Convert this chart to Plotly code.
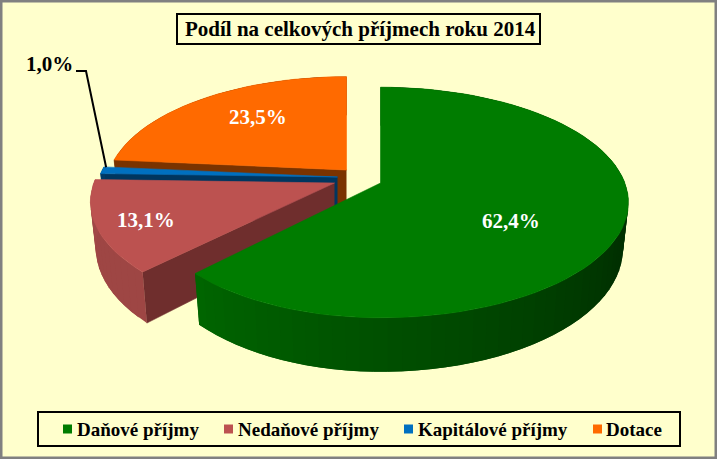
import numpy as np
import plotly.graph_objects as go

title = "Podíl na celkových příjmech roku 2014"
categories = ["Daňové příjmy", "Nedaňové příjmy", "Kapitálové příjmy", "Dotace"]
values = [62.4, 13.1, 1.0, 23.5]

top_colors = ["#007C00", "#BC5250", "#0070C0", "#FF6A00"]
arc_colors = [("#003000", "#006600"), ("#9E4644", "#A34947"), ("#003A66", "#003A66"), ("#7A3300", "#7A3300")]
cut_colors = [None, "#6F2E2D", "#00365F", "#7A3300"]

# style: projected-disc geometry (pixel scale of the hidden axes)
CX, CY, RX, RY, PERSP, DEPTH, BOTTOM_X = 380.5, 183.0, 244.4, 112.0, 0.169, 45.0, 0.978
# per-slice explosion offset, radius factor and extra squeeze on the left half
offsets = [(0, 0), (-46, 0), (-43, -6), (-34, -13)]
scales = [1.0, 0.985, 0.975, 0.97]
left_squeeze = [0.95, 1.0, 1.0, 1.0]
label_xy = [(511, 221), (146, 220), (49, 64), (258, 117)]
label_colors = ["white", "white", "black", "white"]

pct = np.array(values) / sum(values)
edges = np.concatenate([[0], np.cumsum(pct)]) * 2 * np.pi


def project(theta, radius, off, squeeze=1.0):
    u, v = radius * np.sin(theta), radius * np.cos(theta)
    u = np.where(u < 0, u * squeeze, u)
    w = 1 + PERSP * v
    x = CX + RX * u / w + off[0]
    y = CY - RY * v / w + off[1]
    yb = y + DEPTH / w
    xb = CX + off[0] + (x - CX - off[0]) * BOTTOM_X
    return x, y, xb, yb


def mix(c1, c2, t):
    a = [int(c1[i:i + 2], 16) for i in (1, 3, 5)]
    b = [int(c2[i:i + 2], 16) for i in (1, 3, 5)]
    return "rgb(%d,%d,%d)" % tuple(round(p + (q - p) * t) for p, q in zip(a, b))


fig = go.Figure()


def poly(xs, ys, color, lw=0.6):
    fig.add_trace(go.Scatter(x=list(xs), y=list(ys), mode="lines", fill="toself", fillcolor=color,
                             line=dict(color=color, width=lw), hoverinfo="skip", showlegend=False))


for i in [3, 2, 1, 0]:
    a0, a1 = edges[i], edges[i + 1]
    off, sc = offsets[i], scales[i]
    n = max(int((a1 - a0) / 0.05), 2)
    th = np.linspace(a0, a1, n + 1)
    x, y, xb, yb = project(th, sc, off, left_squeeze[i])
    ax, ay, axb, ayb = project(np.array([0.0]), 0.0, off)
    # cut face that looks toward the viewer
    if i != 0:
        poly([ax[0], x[0], xb[0], axb[0]], [ay[0], y[0], yb[0], ayb[0]], cut_colors[i])
    # outer rim, in shaded strips; each strip overlaps the next to hide seams
    shade_start = a0 + 0.5 * (a1 - a0)
    for k in range(n):
        t = np.clip((th[k] - shade_start) / (a1 - shade_start), 0, 1)
        e = min(k + 2, n)
        poly(np.concatenate([x[k:e + 1], xb[k:e + 1][::-1]]), np.concatenate([y[k:e + 1], yb[k:e + 1][::-1]]),
             mix(arc_colors[i][0], arc_colors[i][1], t), lw=0)
    # top face
    poly(np.concatenate([ax, x, ax]), np.concatenate([ay, y, ay]), top_colors[i])

# leader line for the small slice, ending at its rim
mid = (edges[2] + edges[3]) / 2
lx, ly, _, _ = project(np.array([mid]), scales[2], offsets[2])
fig.add_trace(go.Scatter(x=[76, 86, lx[0] + 4], y=[71, 71, ly[0] - 3], mode="lines",
                         line=dict(color="black", width=2), hoverinfo="skip", showlegend=False))

annotations = []
for v, (tx, ty), c in zip(values, label_xy, label_colors):
    annotations.append(dict(x=tx, y=ty, text="<b>" + f"{v:.1f}".replace(".", ",") + "%</b>", showarrow=False,
                            font=dict(family="Liberation Serif", size=21, color=c)))

annotations.append(dict(x=360.5, y=29, text="<b>" + title + "</b>", showarrow=False,
                        font=dict(family="Liberation Serif", size=21, color="black")))

# legend row
mark_x = [67.5, 228.5, 408.5, 597.5]
text_x = [75, 236, 416, 604]
fig.add_trace(go.Scatter(x=mark_x, y=[429] * 4, mode="markers", hoverinfo="skip", showlegend=False,
                         marker=dict(symbol="square", size=9, color=top_colors)))
for name, tx in zip(categories, text_x):
    annotations.append(dict(x=tx, y=429, text="<b>" + name + "</b>", showarrow=False, xanchor="left",
                            font=dict(family="Liberation Serif", size=19, color="black")))

shapes = [
    dict(type="rect", x0=0, x1=717, y0=0, y1=459, line=dict(color="#808080", width=5), layer="above"),
    dict(type="rect", x0=177, x1=540, y0=14, y1=44, line=dict(color="black", width=2)),
    dict(type="rect", x0=38, x1=680, y0=412, y1=446, line=dict(color="black", width=2)),
]

fig.update_layout(
    width=717, height=459, margin=dict(l=0, r=0, t=0, b=0), autosize=False,
    paper_bgcolor="#FFFFCC", plot_bgcolor="#FFFFCC", showlegend=False,
    xaxis=dict(range=[0, 717], visible=False, fixedrange=True),
    yaxis=dict(range=[459, 0], visible=False, fixedrange=True),
    annotations=annotations, shapes=shapes,
)
fig.write_html("out.html", config=dict(displayModeBar=False),
               post_script="document.body.style.margin='0';document.body.style.overflow='hidden';")
